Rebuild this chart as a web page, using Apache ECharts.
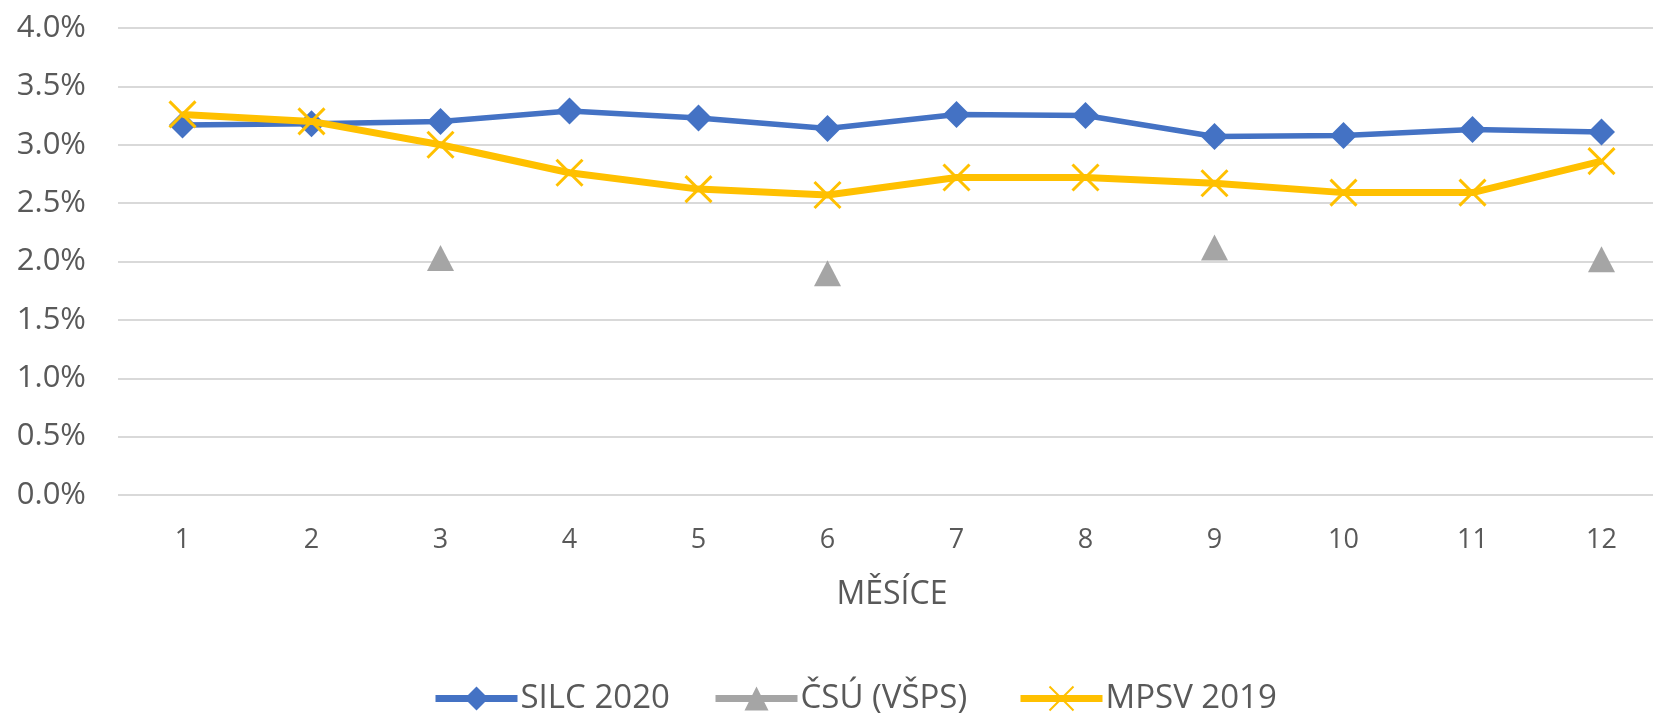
<!DOCTYPE html>
<html>
<head>
    <meta charset="utf-8">
    <script src="https://cdn.jsdelivr.net/npm/echarts@6/dist/echarts.min.js"></script>
    <style>
        html, body { margin: 0; padding: 0; background: #fff; overflow: hidden; }
        /* plot runs past the right edge like in the source image */
        #chart { width: 1666px; height: 716px; }
    </style>
</head>
<body>
<div id="chart"></div>
<script>
    // měsíce 1..12
    var months = ['1', '2', '3', '4', '5', '6', '7', '8', '9', '10', '11', '12'];
    // hodnoty v %
    var silc2020 = [3.17, 3.18, 3.20, 3.29, 3.23, 3.14, 3.26, 3.25, 3.07, 3.08, 3.13, 3.11];
    var csuVsps = [null, null, 2.03, null, null, 1.90, null, null, 2.12, null, null, 2.02];
    var mpsv2019 = [3.26, 3.20, 3.00, 2.76, 2.62, 2.57, 2.72, 2.72, 2.67, 2.59, 2.59, 2.86];

    var textColor = '#595959';
    var font = '"Open Sans", "Liberation Sans", sans-serif';

    var chart = echarts.init(document.getElementById('chart'));

    function legendItem(name, left) {
        return {
            left: left,
            top: 682,
            padding: 0,
            itemWidth: 82,
            itemHeight: 30,
            lineStyle: { width: 7 },
            textStyle: { fontSize: 33, color: textColor, fontFamily: font, padding: [0, 0, 0, -2] },
            data: [name]
        };
    }

    chart.setOption({
        animation: false,
        backgroundColor: '#ffffff',
        textStyle: { fontFamily: font, color: textColor },
        grid: {
            left: 118,
            right: 0,
            top: 28,
            bottom: 221
        },
        legend: [
            legendItem('SILC 2020', 432),
            legendItem('ČSÚ (VŠPS)', 712),
            legendItem('MPSV 2019', 1017)
        ],
        xAxis: {
            type: 'category',
            data: months,
            boundaryGap: true,
            name: 'MĚSÍCE',
            nameLocation: 'middle',
            nameGap: 84,
            nameTextStyle: { fontSize: 32, color: textColor, fontFamily: font },
            axisLine: { show: false },
            axisTick: { show: false },
            axisLabel: { fontSize: 27, color: textColor, margin: 32, fontFamily: font }
        },
        yAxis: {
            type: 'value',
            min: 0,
            max: 4,
            interval: 0.5,
            axisLine: { show: false },
            axisTick: { show: false },
            axisLabel: {
                fontSize: 31,
                color: textColor,
                margin: 32,
                fontFamily: font,
                formatter: function (v) { return v.toFixed(1) + '%'; }
            },
            splitLine: { lineStyle: { color: '#D9D9D9', width: 2 } }
        },
        series: [
            {
                name: 'SILC 2020',
                type: 'line',
                data: silc2020,
                symbol: 'diamond',
                symbolSize: [27, 27],
                lineStyle: { color: '#4472C4', width: 5.5 },
                itemStyle: { color: '#4472C4' },
                z: 2
            },
            {
                name: 'ČSÚ (VŠPS)',
                type: 'line',
                data: csuVsps,
                connectNulls: false,
                symbol: 'triangle',
                symbolSize: [27, 26],
                lineStyle: { color: '#A5A5A5', width: 5.5 },
                itemStyle: { color: '#A5A5A5' },
                z: 3
            },
            {
                name: 'MPSV 2019',
                type: 'line',
                data: mpsv2019,
                symbol: 'path://M0 0L20 20M20 0L0 20',
                symbolSize: [26, 26],
                lineStyle: { color: '#FFC000', width: 7 },
                itemStyle: { color: 'rgba(0,0,0,0)', borderColor: '#FFC000', borderWidth: 3 },
                z: 4
            }
        ]
    });
</script>
</body>
</html>
